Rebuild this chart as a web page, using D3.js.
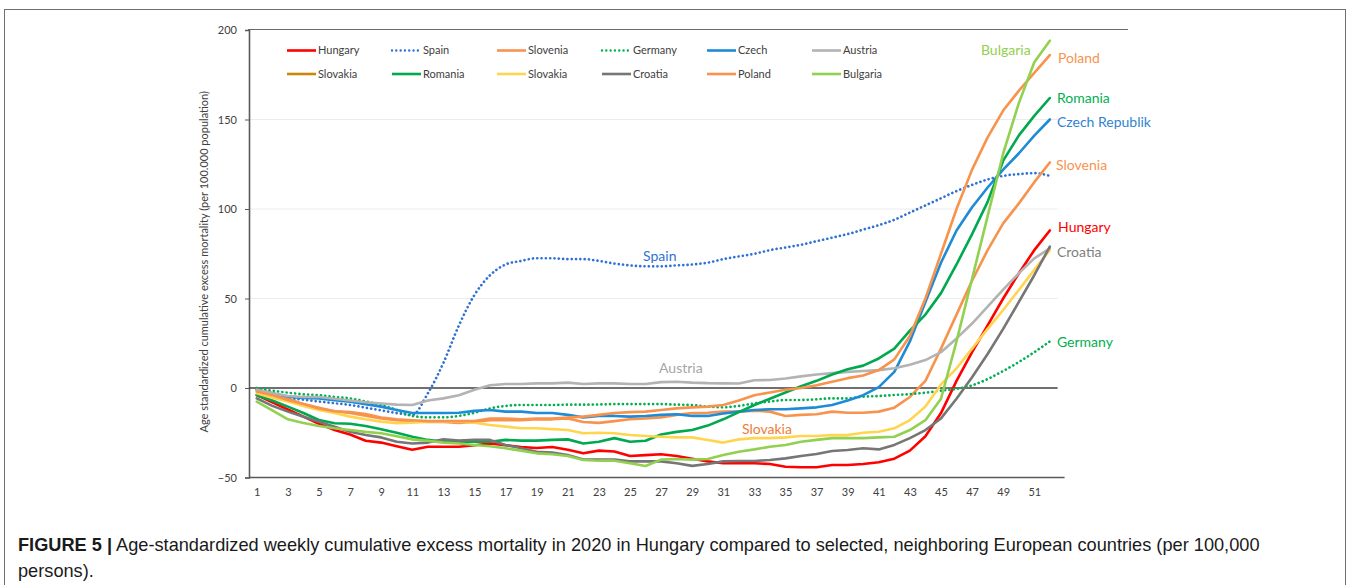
<!DOCTYPE html>
<html><head><meta charset="utf-8">
<script src="https://cdn.jsdelivr.net/npm/d3@7/dist/d3.min.js"></script>
<style>
html,body{margin:0;padding:0;background:#fff;}
svg{display:block;}
</style></head>
<body>
<svg id="chart" width="1352" height="585"></svg>
<script>
// ---------- DATA ----------
const weeks = [1,2,3,4,5,6,7,8,9,10,11,12,13,14,15,16,17,18,19,20,21,22,23,24,25,26,27,28,29,30,31,32,33,34,35,36,37,38,39,40,41,42,43,44,45,46,47,48,49,50,51,52];
const xTickLabels = [1,3,5,7,9,11,13,15,17,19,21,23,25,27,29,31,33,35,37,39,41,43,45,47,49,51];
const yTickValues = [-50,0,50,100,150,200];

const hungary  = [-4,-8,-12,-16,-20,-23.5,-26,-29.5,-30.5,-32.5,-34.5,-32.8,-32.8,-32.8,-32,-31,-32,-33,-33.5,-33,-34.5,-36.5,-35,-35.5,-38,-37.5,-37,-38,-39.5,-41,-42,-42,-42,-42.5,-44,-44.3,-44.3,-43,-43,-42.5,-41.5,-39.5,-35,-27,-14,4,20,35,50,64,77,88];
const spain    = [-0.5,-3,-5.5,-6.5,-7.5,-8.5,-9.5,-11,-12.5,-14,-15,-3,14,35,52,63,69,71,72.5,72.5,72,72,71,69.5,68.5,68,68,68.5,69,70,72,73.5,75,77,78.5,80,82,84,86,88.5,91,94,98,102,106,110,113.5,116.5,118.5,119.5,120,118.5];
const slovenia = [-1,-3,-6,-9,-11,-13,-14,-15.5,-17,-18,-18.5,-19,-19,-19.5,-19,-18,-18,-18,-17.5,-17.5,-17,-19,-19.5,-18.5,-17.5,-17,-16.4,-15,-14,-13.8,-13.2,-13.2,-12.7,-13.2,-15.6,-15,-14.7,-13.2,-13.8,-13.8,-13.2,-11,-5,4,22,41,60,77,92,103,115,126];
const germany  = [0,-1.5,-2.6,-3.5,-4,-5,-5.8,-7.5,-9.5,-12.3,-15.6,-16.4,-16.4,-15.6,-13.8,-11.4,-10,-9.5,-9.5,-9.5,-9.3,-9.3,-9.2,-9,-9,-9,-9,-9.3,-9.5,-10.4,-10.8,-10,-8.6,-7.6,-6.7,-6.7,-6.3,-5.8,-5.8,-4.8,-4.5,-3.9,-3.4,-2.6,-1.5,-0.5,1.5,5,9.5,14.5,20,26];
const czech    = [-1,-3,-4.8,-5.5,-5.8,-6.8,-7.6,-9,-10.4,-12.3,-14,-14,-14,-13.8,-12.8,-12.3,-13.2,-13.2,-14,-14,-15,-16.4,-15.6,-15.6,-16,-15.6,-15,-14.7,-15.6,-15.6,-14.2,-13.2,-12.3,-11.9,-11.9,-11.4,-10.8,-9.5,-7,-4,0.5,9,26,48,70,88,101,112,122,131,141,150];
const austria  = [-1,-3,-4.5,-5,-5,-6,-7,-8,-8.7,-9.3,-9.5,-7,-5.8,-4,-1,1.5,2.2,2.2,2.6,2.6,3,2.2,2.6,2.6,2.2,2.2,3.3,3.5,3,2.7,2.6,2.5,4.3,4.5,5.3,6.5,7.5,8.3,9,9.5,10,11,13,15.6,20,27.7,36,45.4,55,64,72.4,78];
const slovakia = [-3,-5.5,-7.6,-10,-12.3,-14,-16,-17.5,-18.8,-19.7,-19.4,-18.8,-18.8,-18.8,-19.4,-20.7,-21.6,-22.5,-22.5,-23,-23.5,-25.3,-25,-25.3,-26.3,-26.8,-27.2,-27.6,-27.6,-29,-30.5,-28.7,-28,-28,-27.6,-26.8,-26.8,-26.3,-26.3,-25,-24.4,-22.5,-17.9,-10.4,2,11,22,33,43.6,54.7,66,77];
const romania  = [-4,-7,-10.4,-14,-17.9,-19.7,-20,-21.2,-23,-25,-27.2,-29,-30,-30,-30,-30,-29,-29.4,-29.4,-29,-28.7,-31,-30,-28,-30,-29.5,-26,-24.5,-23.5,-21,-17.5,-13.5,-9.5,-6,-2.5,1,4,7.5,10.5,12.5,16.5,22,32,41,53,69,86,104,127,141,152,162];
const croatia  = [-5.8,-10,-13.2,-16,-18.8,-21.6,-24.4,-26.3,-27.6,-30,-31,-30.5,-28.7,-29.4,-29,-29,-31.8,-33.7,-35.6,-36,-37.4,-40,-40,-40,-41,-41,-41,-42,-43.5,-42.5,-41,-40.8,-40.8,-40.2,-39.3,-38,-36.9,-35.2,-34.6,-33.7,-34.3,-31.8,-28,-23.5,-17,-6,6,19,33,48,63,79];
const poland   = [-2,-4,-6.7,-9,-11.4,-13,-13.5,-14.5,-16.5,-17.5,-18,-18.5,-18.5,-18.5,-18.5,-17,-17,-17.5,-17,-17,-16.5,-16,-15,-14,-13.5,-13.2,-12.3,-11.4,-10.8,-10.4,-9.5,-7,-4,-2.5,-1,0,1.5,3.5,5.5,7,10,16,29,50,75,100,122,140,155,166,176,186];
const bulgaria = [-7.6,-12.5,-17.5,-19.5,-21.2,-22.5,-23.5,-24.5,-25.3,-27,-28.7,-29.5,-30.5,-31,-31.8,-32.5,-33.7,-35,-36.5,-37,-38,-40.2,-40.6,-40.6,-42,-43.6,-40,-39.7,-40,-39.7,-37.4,-35.6,-34.3,-32.8,-31.8,-30,-29,-28,-28,-28,-27.6,-27.2,-23.5,-18,-6,26,61,96,131,159,182,194];

// legend entries (Excel order)
const legendNames  = ["Hungary","Spain","Slovenia","Germany","Czech","Austria","Slovakia","Romania","Slovakia","Croatia","Poland","Bulgaria"];
const legendColors = ["#ff0000","#2f72d4","#f8934d","#00b050","#1e8bd6","#b3b3b3","#c98a0c","#00a84f","#ffd54f","#767676","#f8934d","#92d050"];
const legendDotted = [false,true,false,true,false,false,false,false,false,false,false,false];

// drawn series (draw order)
const seriesData   = [hungary, spain, slovenia, germany, czech, austria, romania, slovakia, croatia, poland, bulgaria];
const seriesColors = ["#ff0000","#2f72d4","#f8934d","#00b050","#1e8bd6","#b3b3b3","#00a84f","#ffd54f","#767676","#f8934d","#92d050"];
const seriesDotted = [false,true,false,true,false,false,false,false,false,false,false];

// direct labels
const labelTexts  = ["Bulgaria","Poland","Romania","Czech Republik","Slovenia","Hungary","Croatia","Germany","Spain","Austria","Slovakia"];
const labelColors = ["#92d050","#f8934d","#00b050","#2e84d2","#f8934d","#ff0000","#7f7f7f","#00b050","#2f72d4","#a6a6a6","#ee7d33"];
const labelWeeks  = [47.57,52.53,52.46,52.46,52.4,52.53,52.46,52.46,25.84,26.87,32.2];
const labelValues = [188.8,184.4,162,148.6,124.6,90,76,25.7,73.7,11.2,-22.9];

const yTitle = "Age standardized cumulative excess mortality  (per 100.000 population)";
const captionBold = "FIGURE 5 |";
const captionLine1 = " Age-standardized weekly cumulative excess mortality in 2020 in Hungary compared to selected, neighboring European countries (per 100,000";
const captionLine2 = "persons).";

// ---------- DRAW ----------
const svg = d3.select("#chart");
const FONT = "Lato, 'Open Sans', sans-serif";

// outer figure frame
svg.append("rect").attr("x",4.5).attr("y",9.5).attr("width",1341).attr("height",620)
  .attr("fill","none").attr("stroke","#6f6f6f").attr("stroke-width",1);

const x = d3.scaleLinear().domain([0.5, 52.5]).range([249, 1057.6]);
const y = d3.scaleLinear().domain([-50, 200]).range([477.5, 30]);

// gridlines
svg.append("g").selectAll("line").data([50,100,150]).join("line")
  .attr("x1", x(0.5)).attr("x2", x(52.5)).attr("y1", d=>y(d)).attr("y2", d=>y(d))
  .attr("stroke","#ececec").attr("stroke-width",1);

// top border line
svg.append("line").attr("x1",248).attr("x2",1128).attr("y1",29.5).attr("y2",29.5)
  .attr("stroke","#6a6a6a").attr("stroke-width",1.1);

// y axis
const yAxis = d3.axisLeft(y).tickValues(yTickValues).tickSize(4).tickPadding(8);
const gy = svg.append("g").attr("transform","translate(249,0)").call(yAxis);
gy.select(".domain").attr("stroke","#5a5a5a").attr("stroke-width",1.6);
gy.selectAll(".tick line").attr("stroke","#5a5a5a");
gy.selectAll(".tick text").attr("fill","#404040").style("font-family",FONT).style("font-size","11px");

// x axis (category, no ticks)
const xAxis = d3.axisBottom(x).tickValues(xTickLabels).tickSize(0).tickPadding(11).tickFormat(d3.format("d"));
const gx = svg.append("g").attr("transform",`translate(0,${y(-50)})`).call(xAxis);
gx.select(".domain").attr("d", `M249,0H${x(52.5)+7}`).attr("stroke","#5a5a5a").attr("stroke-width",1.6);
gx.selectAll(".tick text").attr("fill","#404040").style("font-family",FONT).style("font-size","11px");

// zero line
svg.append("line").attr("x1",x(0.5)).attr("x2",x(52.5)).attr("y1",y(0)).attr("y2",y(0))
  .attr("stroke","#404040").attr("stroke-width",1.3);

// y title
svg.append("text").attr("transform",`translate(208,${(y(200)+y(-50))/2 + 8}) rotate(-90)`)
  .attr("text-anchor","middle").attr("fill","#404040")
  .style("font-family",FONT).style("font-size","11px").text(yTitle);

// series
const lineSolid = d3.line().x((d,i)=>x(weeks[i])).y(d=>y(d));
const lineSmooth = d3.line().x((d,i)=>x(weeks[i])).y(d=>y(d)).curve(d3.curveMonotoneX);
const gs = svg.append("g");
seriesData.forEach((s,k)=>{
  const p = gs.append("path").datum(s)
    .attr("fill","none").attr("stroke",seriesColors[k])
    .attr("stroke-linejoin","round");
  if (seriesDotted[k]) {
    p.attr("d", lineSmooth).attr("stroke-width",2.7).attr("stroke-dasharray","0.01 4.3").attr("stroke-linecap","round");
  } else {
    p.attr("d", lineSolid).attr("stroke-width",2.6).attr("stroke-linecap","round");
  }
});

// legend
const lg = svg.append("g");
legendNames.forEach((n,i)=>{
  const col = i % 6, row = Math.floor(i/6);
  const x0 = 287 + col*105, yy = row===0 ? 50.5 : 74;
  const l = lg.append("line").attr("x1",x0).attr("x2",x0 + (legendDotted[i]?27:29)).attr("y1",yy).attr("y2",yy)
    .attr("stroke",legendColors[i]);
  if (legendDotted[i]) l.attr("stroke-width",2.4).attr("stroke-dasharray","0.01 4.3").attr("stroke-linecap","round");
  else l.attr("stroke-width",2.6);
  lg.append("text").attr("x",x0+31).attr("y",yy).attr("dy","0.35em").attr("fill","#404040")
    .style("font-family",FONT).style("font-size","11px").text(n);
});

// direct labels
const gl = svg.append("g");
labelTexts.forEach((t,i)=>{
  gl.append("text").attr("x",x(labelWeeks[i])).attr("y",y(labelValues[i])).attr("dy","0.35em")
    .attr("fill",labelColors[i]).style("font-family",FONT).style("font-size","14px").text(t);
});

// caption
const cap = svg.append("text").attr("x",18).attr("y",551)
  .style("font-family","'Liberation Sans', Arial, sans-serif").style("font-size","18.2px").attr("fill","#1a1a1a");
cap.append("tspan").style("font-weight","bold").text(captionBold);
cap.append("tspan").text(captionLine1);
svg.append("text").attr("x",18).attr("y",577)
  .style("font-family","'Liberation Sans', Arial, sans-serif").style("font-size","18.2px").attr("fill","#1a1a1a")
  .text(captionLine2);
</script>
</body></html>
